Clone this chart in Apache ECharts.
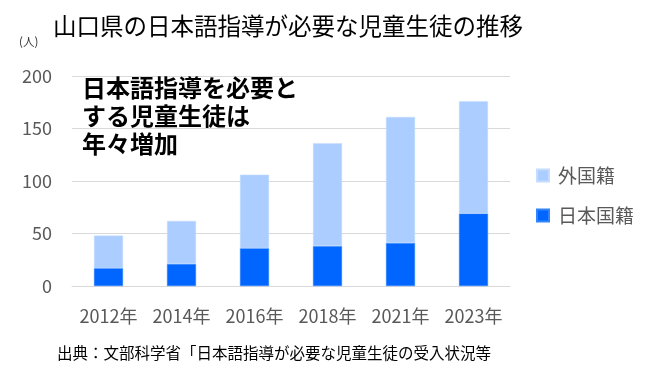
<!DOCTYPE html>
<html><head><meta charset="utf-8">
<script src="https://cdn.jsdelivr.net/npm/echarts@6/dist/echarts.min.js"></script>
<style>html,body{margin:0;padding:0;background:#fff}#c{width:656px;height:386px}</style>
</head><body><div id="c"></div>
<script>
const categories = ['2012年','2014年','2016年','2018年','2021年','2023年'];
const japaneseNationals = [17, 21, 36, 38, 41, 69];
const foreignNationals = [31, 41, 70, 98, 120, 107];
const yTicks = [0, 50, 100, 150, 200];
const FONT = '"Noto Sans CJK JP", "Noto Sans", sans-serif';
const chart = echarts.init(document.getElementById('c'));
chart.setOption({
  animation: false,
  textStyle: { fontFamily: FONT },
  title: [
    { text: '山口県の日本語指導が必要な児童生徒の推移', left: 53, top: 14, padding: 0,
      textStyle: { fontSize: 23.5, fontWeight: 'normal', color: '#000', fontFamily: FONT } },
    { text: '(人)', left: 19, top: 36, padding: 0, textStyle: { fontSize: 11.5, fontWeight: 'normal', color: '#333', fontFamily: FONT } },
    { text: '日本語指導を必要と\nする児童生徒は\n年々増加', left: 82, top: 74, padding: 0,
      textStyle: { fontSize: 24, fontWeight: 'bold', color: '#000', lineHeight: 28, fontFamily: FONT } },
    { text: '出典：文部科学省「日本語指導が必要な児童生徒の受入状況等', left: 57, top: 345, padding: 0,
      textStyle: { fontSize: 15.5, fontWeight: 'normal', color: '#000', fontFamily: FONT } }
  ],
  legend: {
    data: ['外国籍', '日本国籍'], orient: 'vertical', left: 536, top: 166, padding: 0,
    itemWidth: 12, itemHeight: 12, itemGap: 21, icon: 'rect',
    textStyle: { fontSize: 19, color: '#595959', fontFamily: FONT, padding: [0, 0, 0, 4] }
  },
  grid: { left: 72, right: 146, top: 76, bottom: 100, containLabel: false },
  xAxis: {
    type: 'category', data: categories,
    axisLine: { lineStyle: { color: '#d9d9d9' } }, axisTick: { show: false },
    axisLabel: { interval: 0, fontSize: 18, color: '#595959', margin: 21, fontFamily: FONT }
  },
  yAxis: {
    type: 'value', min: yTicks[0], max: yTicks[yTicks.length - 1], interval: 50,
    axisLine: { show: false }, axisTick: { show: false },
    splitLine: { lineStyle: { color: '#d9d9d9', width: 1 } },
    axisLabel: { fontSize: 18, color: '#595959', margin: 20, fontFamily: FONT }
  },
  series: [
    { name: '日本国籍', type: 'bar', stack: 't', data: japaneseNationals, barWidth: 29,
      itemStyle: { color: '#0066ff', borderColor: '#3385ff', borderWidth: 0.5 } },
    { name: '外国籍', type: 'bar', stack: 't', data: foreignNationals, barWidth: 29,
      itemStyle: { color: '#abcdff', borderColor: '#c4dcff', borderWidth: 0.5 } }
  ]
});
</script></body></html>
